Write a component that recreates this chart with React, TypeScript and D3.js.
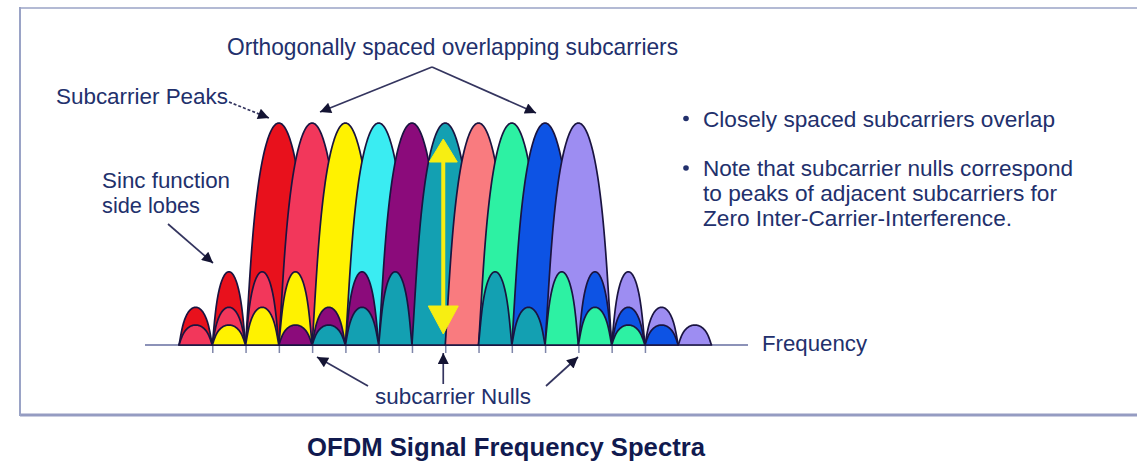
import React, { useEffect, useRef } from "react";
import * as d3 from "d3";

const WIDTH = 1137;
const HEIGHT = 467;

// subcarriers, left to right
const carrierColors = [
  "#e8111c", "#f2375b", "#fff200", "#3aecf2", "#8b0b7b",
  "#13a0b2", "#f97b7f", "#2df1a3", "#0d53e4", "#9d8df2",
];
// null index where each subcarrier peaks
const peakIndex = [3, 4, 5, 6, 7, 8, 9, 10, 11, 12];
// side lobes visible on each side of each subcarrier
const leftLobes = [2, 3, 3, 0, 3, 3, 0, 0, 0, 0];
const rightLobes = [0, 0, 0, 0, 0, 2, 0, 3, 3, 3];
// relative heights: main lobe, 1st, 2nd, 3rd side lobe
const lobeLevels = [1, 0.33, 0.17, 0.09];
const nullTicks = [1, 2, 3, 4, 5, 6, 7, 8, 9, 10, 11, 12, 13, 14];

const bulletLines = [
  ["Closely spaced subcarriers overlap"],
  [
    "Note that subcarrier nulls correspond",
    "to peaks of adjacent subcarriers for",
    "Zero Inter-Carrier-Interference.",
  ],
];

const TEXT = "#22306c";
const FONT = "'Liberation Sans', Arial, sans-serif";

export default function App() {
  const svgRef = useRef<SVGSVGElement>(null);

  useEffect(() => {
    if (!svgRef.current) return;
    const svg = d3.select(svgRef.current);
    svg.selectAll("*").remove();

    const x = d3.scaleLinear().domain([0, 16]).range([179, 711.5]);
    const y = d3.scaleLinear().domain([0, 1]).range([345, 123]);

    const defs = svg.append("defs");
    defs.append("marker")
      .attr("id", "head")
      .attr("viewBox", "0 0 10 10")
      .attr("refX", 10)
      .attr("refY", 5)
      .attr("markerWidth", 14)
      .attr("markerHeight", 11)
      .attr("markerUnits", "userSpaceOnUse")
      .attr("orient", "auto")
      .append("path")
      .attr("d", "M0,0L10,5L0,10Z")
      .attr("fill", "#141433");

    // frame
    svg.append("line").attr("x1", 20).attr("x2", WIDTH).attr("y1", 8).attr("y2", 8)
      .attr("stroke", "#b3bad4").attr("stroke-width", 2);
    svg.append("line").attr("x1", 20).attr("x2", WIDTH).attr("y1", 415).attr("y2", 415)
      .attr("stroke", "#959cc2").attr("stroke-width", 3);
    svg.append("line").attr("x1", 20).attr("x2", 20).attr("y1", 7).attr("y2", 416)
      .attr("stroke", "#9aa3c6").attr("stroke-width", 2);

    // frequency axis
    svg.append("line").attr("x1", 145).attr("x2", 748).attr("y1", y(0)).attr("y2", y(0))
      .attr("stroke", "#8c92b8").attr("stroke-width", 2);
    const axis = svg.append("g")
      .attr("transform", `translate(0,${y(0)})`)
      .call(d3.axisBottom(x).tickValues(nullTicks).tickSize(8).tickFormat(() => ""));
    axis.select(".domain").remove();
    axis.selectAll(".tick line").attr("stroke", "#7f86aa").attr("stroke-width", 1.5);

    // lobe outline: elliptic dome with a slight flare at the base
    const dome = (center: number, half: number, level: number) => {
      const pts: [number, number][] = d3.range(0, 81).map((t) => {
        const a = (Math.PI * t) / 80;
        const c = Math.cos(a);
        const s = Math.sin(a);
        const u = 0.89 * c + 0.11 * Math.pow(1 - s, 4) * Math.sign(c);
        return [x(center - half * u), y(level * s)];
      });
      return d3.line()(pts) + "Z";
    };

    const lobes = svg.append("g")
      .attr("stroke", "#1a1440")
      .attr("stroke-width", 1.7)
      .attr("stroke-linejoin", "round");

    // main lobes, later ones on top
    lobes.selectAll(".main")
      .data(peakIndex)
      .enter().append("path")
      .attr("class", "main")
      .attr("fill", (_, i) => carrierColors[i])
      .attr("d", (c) => dome(c, 1, lobeLevels[0]));

    // side lobes, taller ones behind
    [1, 2, 3].forEach((k) => {
      peakIndex.forEach((c, i) => {
        const spans: number[] = [];
        if (k <= leftLobes[i]) spans.push(c - 1 - k);
        if (k <= rightLobes[i]) spans.push(c + k);
        spans.forEach((j) => {
          lobes.append("path")
            .attr("fill", carrierColors[i])
            .attr("d", dome(j + 0.5, 0.5, lobeLevels[k]));
        });
      });
    });

    // yellow double arrow on centre subcarrier
    const cx = x(peakIndex[5]) - 2;
    const yellow = svg.append("g").attr("fill", "#f7ee12").attr("stroke", "#f7ee12");
    yellow.append("line").attr("x1", cx).attr("x2", cx).attr("y1", 150).attr("y2", 320)
      .attr("stroke-width", 4);
    yellow.append("path").attr("d", `M${cx},139L${cx - 14},162L${cx + 14},162Z`).attr("stroke-width", 1);
    yellow.append("path").attr("d", `M${cx},334L${cx - 15},306L${cx + 15},306Z`).attr("stroke-width", 1);

    // annotation arrows
    const arrow = (x1: number, y1: number, x2: number, y2: number, dash?: string) => {
      const l = svg.append("line")
        .attr("x1", x1).attr("y1", y1).attr("x2", x2).attr("y2", y2)
        .attr("stroke", "#34355f").attr("stroke-width", 1.7)
        .attr("marker-end", "url(#head)");
      if (dash) l.attr("stroke-dasharray", dash);
    };
    arrow(432, 67, 320, 112);
    arrow(432, 67, 536, 113);
    arrow(229, 102, 269, 118, "3,2");
    arrow(168, 224, 213, 263);
    arrow(368, 386, 317, 357);
    arrow(x(8) - 2, 384, x(8) - 2, 353);
    arrow(546, 386, 578, 357);

    const label = (txt: string, tx: number, ty: number, len: number, size = 22, family = FONT) =>
      svg.append("text")
        .attr("x", tx).attr("y", ty)
        .attr("fill", TEXT)
        .attr("font-family", family)
        .attr("font-size", size)
        .attr("textLength", len)
        .attr("lengthAdjust", "spacingAndGlyphs")
        .text(txt);

    label("Orthogonally spaced overlapping subcarriers", 227, 55, 451, 24,
      "'Liberation Sans Narrow', 'Arial Narrow', 'Liberation Sans', sans-serif");
    label("Subcarrier Peaks", 56, 104, 172);
    label("Sinc function", 102, 188, 128);
    label("side lobes", 102, 213, 98);
    label("Frequency", 762, 351, 105);
    label("subcarrier Nulls", 375, 404, 156);

    // bullet notes
    const bulletLens = [[352], [370, 354, 309]];
    const bulletY = [126.5, 176];
    bulletLines.forEach((lines, b) => {
      svg.append("circle").attr("cx", 686).attr("cy", bulletY[b] - 8).attr("r", 2.8).attr("fill", TEXT);
      lines.forEach((line, li) => {
        label(line, 703, bulletY[b] + li * 25, bulletLens[b][li]);
      });
    });

    svg.append("text")
      .attr("x", 307).attr("y", 456)
      .attr("fill", "#111a4f")
      .attr("font-family", FONT)
      .attr("font-weight", "bold")
      .attr("font-size", 25)
      .attr("textLength", 398)
      .attr("lengthAdjust", "spacingAndGlyphs")
      .text("OFDM Signal Frequency Spectra");
  }, []);

  return (
    <div style={{ position: "absolute", left: 0, top: 0, background: "#fff" }}>
      <svg ref={svgRef} width={WIDTH} height={HEIGHT} style={{ display: "block" }} />
    </div>
  );
}
